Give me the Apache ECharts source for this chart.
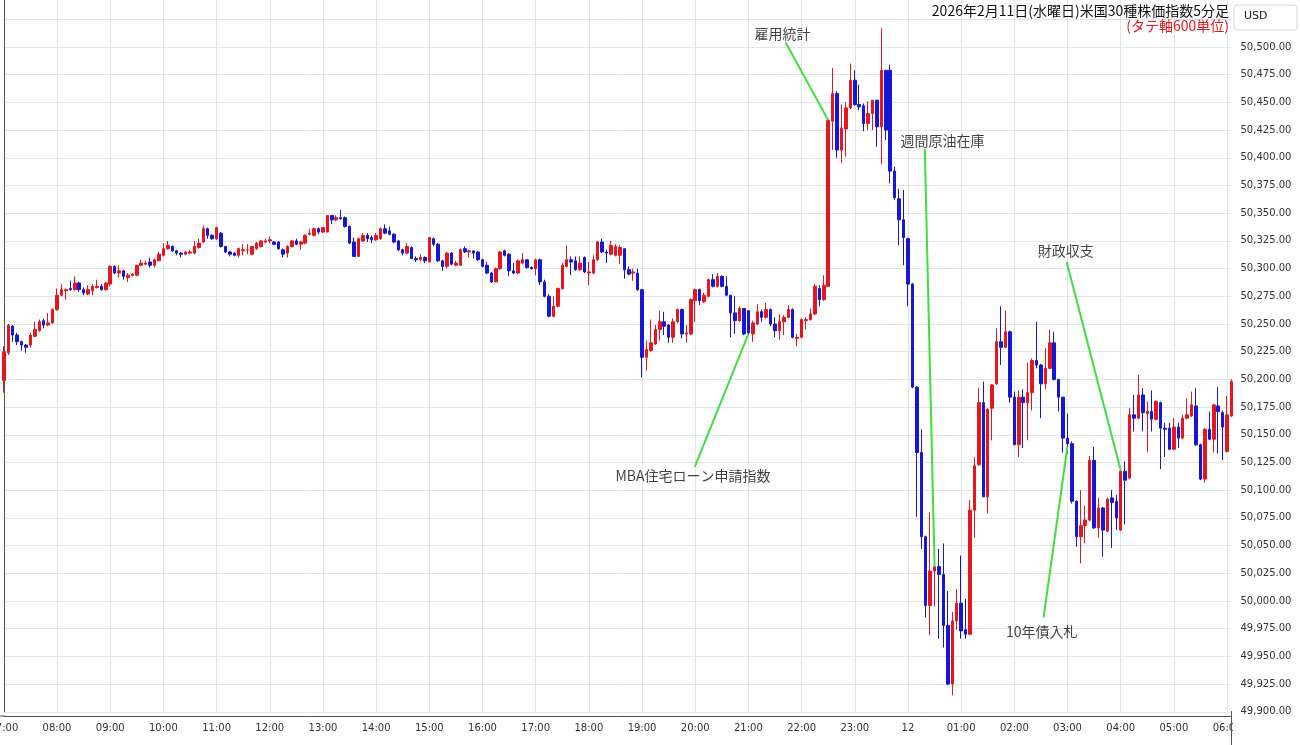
<!DOCTYPE html>
<html>
<head>
<meta charset="utf-8">
<script src="https://cdn.jsdelivr.net/npm/echarts@6/dist/echarts.min.js"></script>
<style>
  html, body { margin: 0; padding: 0; background: #fff; }
  #chart { width: 1300px; height: 745px; }
</style>
</head>
<body>
<div id="chart"></div>
<script>
// 5分足 07:00 〜 翌06:05
const barCount = 278
const times = []
for (let k = 0; k < barCount; k++) {
  const m = 7 * 60 + k * 5
  const hh = String(Math.floor(m / 60) % 24).padStart(2, '0')
  const mm = String(m % 60).padStart(2, '0')
  times.push(hh + ':' + mm)
}

const opens = [
  50199, 50224, 50248, 50240, 50234, 50231, 50231, 50239, 50244, 50253, 50249, 50251,
  50263, 50276, 50280, 50282, 50281, 50287, 50281, 50277, 50280, 50283, 50284, 50281,
  50286, 50302, 50296, 50298, 50292, 50294, 50294, 50303, 50304, 50306, 50303, 50307,
  50312, 50318, 50320, 50316, 50314, 50313, 50314, 50314, 50319, 50324, 50336, 50330,
  50327, 50332, 50320, 50315, 50314, 50312, 50316, 50317, 50313, 50318, 50320, 50324,
  50325, 50324, 50324, 50317, 50314, 50320, 50325, 50322, 50323, 50331, 50330, 50336,
  50333, 50333, 50348, 50344, 50346, 50346, 50338, 50324, 50311, 50325, 50330, 50328,
  50326, 50327, 50336, 50334, 50331, 50325, 50317, 50314, 50319, 50309, 50308, 50310,
  50306, 50327, 50322, 50307, 50302, 50314, 50303, 50303, 50318, 50315, 50316, 50315,
  50308, 50303, 50296, 50288, 50300, 50316, 50313, 50298, 50296, 50305, 50308, 50301,
  50300, 50308, 50288, 50275, 50257, 50266, 50282, 50302, 50308, 50307, 50299, 50310,
  50296, 50296, 50308, 50324, 50315, 50313, 50312, 50312, 50318, 50299, 50296, 50296,
  50281, 50220, 50226, 50232, 50245, 50252, 50249, 50238, 50252, 50263, 50241, 50241,
  50271, 50281, 50270, 50275, 50290, 50284, 50293, 50284, 50276, 50260, 50253, 50264,
  50262, 50241, 50250, 50261, 50256, 50263, 50250, 50244, 50252, 50256, 50263, 50237,
  50238, 50253, 50254, 50259, 50282, 50272, 50284, 50433, 50458, 50407, 50426, 50445,
  50470, 50448, 50447, 50431, 50440, 50452, 50428, 50479, 50479, 50388, 50363, 50344,
  50327, 50286, 50193, 50134, 50058, 49996, 50027, 50031, 50024, 49978, 49925, 49982,
  49998, 49974, 49970, 50082, 50123, 50179, 50094, 50174, 50196, 50234, 50229, 50243,
  50184, 50141, 50184, 50179, 50188, 50217, 50213, 50196, 50210, 50233, 50200, 50184,
  50147, 50142, 50090, 50058, 50068, 50073, 50127, 50066, 50084, 50063, 50093, 50090,
  50064, 50117, 50111, 50168, 50165, 50186, 50169, 50171, 50164, 50179, 50156, 50156,
  50137, 50157, 50147, 50165, 50167, 50176, 50141, 50110, 50155, 50146, 50176, 50170,
  50135, 50167,
]
const closes = [
  50225, 50249, 50240, 50234, 50231, 50229, 50240, 50245, 50252, 50249, 50251, 50263,
  50276, 50281, 50281, 50281, 50287, 50281, 50278, 50281, 50284, 50284, 50281, 50287,
  50302, 50296, 50298, 50293, 50294, 50295, 50303, 50305, 50305, 50303, 50308, 50313,
  50318, 50321, 50316, 50314, 50313, 50315, 50315, 50320, 50323, 50336, 50330, 50327,
  50337, 50320, 50315, 50313, 50312, 50318, 50317, 50317, 50320, 50323, 50325, 50325,
  50326, 50322, 50318, 50313, 50320, 50325, 50322, 50324, 50330, 50332, 50336, 50333,
  50337, 50348, 50344, 50346, 50345, 50338, 50323, 50311, 50327, 50330, 50327, 50326,
  50330, 50336, 50332, 50331, 50324, 50317, 50314, 50320, 50309, 50308, 50310, 50307,
  50328, 50322, 50307, 50302, 50314, 50304, 50305, 50317, 50315, 50316, 50314, 50308,
  50302, 50296, 50288, 50300, 50315, 50312, 50298, 50296, 50307, 50308, 50301, 50300,
  50308, 50288, 50275, 50257, 50266, 50282, 50303, 50308, 50306, 50299, 50305, 50297,
  50297, 50308, 50324, 50315, 50314, 50321, 50320, 50319, 50299, 50295, 50297, 50281,
  50220, 50227, 50233, 50245, 50252, 50248, 50238, 50252, 50263, 50241, 50242, 50272,
  50281, 50271, 50276, 50290, 50284, 50293, 50284, 50276, 50260, 50253, 50264, 50241,
  50242, 50251, 50261, 50256, 50263, 50250, 50244, 50252, 50256, 50263, 50238, 50238,
  50254, 50254, 50259, 50284, 50272, 50285, 50434, 50458, 50407, 50427, 50445, 50470,
  50448, 50446, 50431, 50440, 50452, 50428, 50479, 50425, 50388, 50364, 50344, 50328,
  50286, 50193, 50134, 50058, 49996, 50027, 50031, 50024, 49978, 49925, 49982, 49998,
  49973, 49970, 50082, 50122, 50179, 50094, 50173, 50195, 50234, 50229, 50243, 50184,
  50141, 50184, 50179, 50188, 50217, 50213, 50196, 50210, 50233, 50200, 50184, 50147,
  50142, 50090, 50058, 50068, 50073, 50127, 50066, 50084, 50064, 50092, 50089, 50075,
  50117, 50109, 50168, 50165, 50186, 50170, 50171, 50164, 50180, 50156, 50155, 50137,
  50157, 50147, 50165, 50168, 50177, 50141, 50110, 50155, 50146, 50177, 50171, 50157,
  50168, 50198,
]
const lows = [
  50188, 50222, 50234, 50231, 50226, 50224, 50229, 50238, 50243, 50246, 50248, 50250,
  50262, 50275, 50272, 50280, 50280, 50279, 50276, 50276, 50276, 50282, 50280, 50280,
  50284, 50295, 50292, 50290, 50288, 50293, 50293, 50302, 50303, 50301, 50301, 50307,
  50311, 50317, 50315, 50312, 50310, 50312, 50313, 50313, 50318, 50323, 50327, 50326,
  50326, 50319, 50314, 50311, 50311, 50310, 50312, 50313, 50312, 50317, 50319, 50323,
  50323, 50321, 50317, 50310, 50310, 50319, 50321, 50317, 50322, 50330, 50329, 50331,
  50332, 50333, 50340, 50343, 50344, 50337, 50322, 50311, 50311, 50324, 50324, 50323,
  50325, 50326, 50331, 50330, 50323, 50316, 50312, 50313, 50309, 50306, 50307, 50305,
  50306, 50320, 50306, 50298, 50300, 50303, 50302, 50303, 50314, 50310, 50309, 50307,
  50301, 50295, 50287, 50288, 50299, 50311, 50293, 50295, 50295, 50304, 50300, 50299,
  50294, 50285, 50274, 50256, 50256, 50265, 50281, 50301, 50294, 50298, 50298, 50296,
  50285, 50295, 50307, 50314, 50305, 50312, 50311, 50304, 50291, 50294, 50289, 50280,
  50202, 50208, 50225, 50231, 50235, 50240, 50233, 50233, 50251, 50237, 50233, 50240,
  50252, 50267, 50269, 50274, 50283, 50283, 50283, 50275, 50238, 50241, 50252, 50240,
  50241, 50234, 50249, 50252, 50255, 50248, 50238, 50236, 50240, 50255, 50237, 50230,
  50237, 50245, 50253, 50258, 50266, 50271, 50284, 50407, 50400, 50395, 50401, 50444,
  50447, 50443, 50424, 50425, 50425, 50410, 50394, 50416, 50377, 50362, 50321, 50303,
  50266, 50192, 50076, 50047, 49985, 49969, 49995, 49966, 49958, 49924, 49915, 49974,
  49966, 49966, 49969, 50057, 50122, 50094, 50079, 50145, 50195, 50213, 50228, 50179,
  50141, 50130, 50138, 50145, 50172, 50210, 50165, 50191, 50209, 50199, 50171, 50134,
  50133, 50088, 50049, 50034, 50052, 50072, 50065, 50057, 50040, 50062, 50048, 50064,
  50063, 50069, 50110, 50153, 50164, 50153, 50134, 50153, 50163, 50119, 50130, 50136,
  50136, 50138, 50146, 50164, 50166, 50140, 50109, 50107, 50145, 50134, 50133, 50127,
  50134, 50166,
]
const highs = [
  50230, 50250, 50249, 50242, 50235, 50232, 50242, 50252, 50254, 50255, 50260, 50264,
  50282, 50286, 50282, 50289, 50293, 50288, 50283, 50285, 50286, 50290, 50286, 50288,
  50303, 50303, 50303, 50299, 50296, 50296, 50303, 50308, 50307, 50310, 50309, 50315,
  50323, 50325, 50321, 50317, 50315, 50316, 50317, 50325, 50327, 50339, 50337, 50331,
  50338, 50333, 50320, 50316, 50315, 50319, 50322, 50322, 50320, 50324, 50326, 50327,
  50329, 50325, 50325, 50318, 50321, 50326, 50327, 50325, 50331, 50336, 50337, 50337,
  50337, 50348, 50348, 50348, 50353, 50347, 50339, 50328, 50328, 50332, 50332, 50330,
  50332, 50337, 50340, 50338, 50332, 50326, 50318, 50323, 50320, 50311, 50313, 50311,
  50328, 50328, 50323, 50308, 50315, 50315, 50307, 50318, 50320, 50317, 50316, 50316,
  50309, 50306, 50297, 50301, 50316, 50317, 50314, 50305, 50308, 50314, 50308, 50302,
  50309, 50309, 50290, 50277, 50275, 50283, 50305, 50321, 50311, 50311, 50311, 50311,
  50306, 50312, 50325, 50327, 50317, 50325, 50322, 50321, 50318, 50302, 50300, 50300,
  50281, 50235, 50254, 50249, 50262, 50261, 50250, 50255, 50264, 50264, 50249, 50273,
  50282, 50282, 50278, 50291, 50295, 50296, 50294, 50293, 50276, 50275, 50266, 50264,
  50262, 50253, 50268, 50263, 50269, 50264, 50256, 50259, 50258, 50267, 50264, 50241,
  50255, 50256, 50264, 50286, 50285, 50294, 50434, 50481, 50460, 50448, 50450, 50485,
  50479, 50466, 50449, 50451, 50452, 50452, 50517, 50479, 50484, 50392, 50372, 50371,
  50328, 50287, 50194, 50155, 50059, 50080, 50044, 50047, 50052, 50009, 49990, 50011,
  50041, 50002, 50091, 50130, 50192, 50198, 50174, 50196, 50246, 50266, 50262, 50244,
  50189, 50190, 50191, 50215, 50219, 50252, 50214, 50228, 50245, 50243, 50200, 50184,
  50169, 50144, 50091, 50100, 50086, 50131, 50139, 50093, 50085, 50093, 50100, 50096,
  50118, 50126, 50174, 50186, 50204, 50192, 50180, 50190, 50181, 50180, 50161, 50161,
  50165, 50161, 50168, 50183, 50189, 50192, 50142, 50156, 50171, 50178, 50193, 50172,
  50185, 50200,
]

// 指標発表の注記 (x はバー番号, y は価格)
const noteNames = ['雇用統計', '週間原油在庫', '財政収支', 'MBA住宅ローン申請指数', '10年債入札']
const noteLabelAt = [[175.7, 50512], [211.8, 50415], [239.6, 50316], [155.5, 50113], [234.2, 49972]]
const noteLineFrom = [[176.4, 50504], [207.8, 50408], [239.8, 50306], [155.9, 50121], [234.6, 49985]]
const noteLineTo = [[186, 50434], [210, 50031], [252, 50118], [168, 50241], [240, 50140]]

const upColor = '#e5161d'
const downColor = '#1616d6'
const jpFont = '"Noto Sans CJK JP", "Noto Sans", sans-serif'
const numFont = '"DejaVu Sans", sans-serif'

const candles = opens.map((o, k) => [o, closes[k], lows[k], highs[k]])
const isHour = (idx, val) => val.endsWith(':00')

const chart = echarts.init(document.getElementById('chart'))
chart.setOption({
  animation: false,
  backgroundColor: '#fff',
  grid: { left: 3.85, right: 68.5, top: -8.4, bottom: 33.2, outerBoundsMode: 'none', containLabel: false },
  xAxis: [
    {
      type: 'category',
      data: times,
      boundaryGap: false,
      offset: 4,
      axisLine: { lineStyle: { color: '#555', width: 1 } },
      axisTick: { show: false },
      axisLabel: {
        interval: isHour,
        margin: 8,
        color: '#333',
        fontSize: 10,
        fontFamily: numFont,
        formatter: v => (v === '00:00' ? '12' : v),
      },
      splitLine: { show: true, interval: isHour, lineStyle: { color: '#dfe6ed', width: 1 } },
    },
    { type: 'value', min: 0, max: barCount - 1, show: false },
  ],
  yAxis: {
    type: 'value',
    position: 'right',
    min: 49900,
    max: 50550,
    interval: 25,
    axisLine: { show: true, lineStyle: { color: '#555', width: 1 } },
    axisTick: { show: false },
    axisLabel: {
      margin: 9,
      color: '#333',
      fontSize: 10,
      fontFamily: numFont,
      formatter: v => v.toLocaleString('en-US', { minimumFractionDigits: 2, maximumFractionDigits: 2 }),
    },
    splitLine: { lineStyle: { color: '#dfe6ed', width: 1 } },
  },
  series: [
    {
      type: 'candlestick',
      data: candles,
      barWidth: 3,
      itemStyle: {
        color: upColor,
        color0: downColor,
        borderColor: upColor,
        borderColor0: downColor,
        borderWidth: 1,
      },
    },
    ...noteLineFrom.map((p, k) => ({
      type: 'line',
      xAxisIndex: 1,
      data: [p, noteLineTo[k]],
      symbol: 'none',
      silent: true,
      lineStyle: { color: '#3de03d', width: 2 },
      z: 5,
    })),
    {
      type: 'scatter',
      xAxisIndex: 1,
      symbolSize: 1,
      itemStyle: { color: 'rgba(0,0,0,0)' },
      silent: true,
      z: 6,
      data: noteLabelAt.map((p, k) => ({ value: p, name: noteNames[k] })),
      label: {
        show: true,
        position: 'inside',
        formatter: '{b}',
        color: '#111',
        fontSize: 14,
        fontFamily: jpFont,
      },
    },
  ],
  graphic: [
    {
      type: 'rect',
      z: 100,
      shape: { x: 1233, y: 717, width: 67, height: 28 },
      style: { fill: '#fff' },
    },
    {
      type: 'line',
      z: 100,
      shape: { x1: 1231.5, y1: 711, x2: 1231.5, y2: 745 },
      style: { stroke: '#555', lineWidth: 1 },
    },
    {
      type: 'line',
      z: 100,
      shape: { x1: 0, y1: 716, x2: 5, y2: 716 },
      style: { stroke: '#555', lineWidth: 1 },
    },
    {
      type: 'rect',
      z: 100,
      shape: { x: 1234, y: 5, width: 63, height: 25, r: 3 },
      style: { fill: '#fff', stroke: '#d6d6d6', lineWidth: 1 },
    },
    {
      type: 'text',
      z: 101,
      x: 1244,
      y: 11,
      style: { text: 'USD', fill: '#222', font: '11px ' + numFont },
    },
    {
      type: 'text',
      z: 101,
      right: 71,
      top: 4,
      style: { text: '2026年2月11日(水曜日)米国30種株価指数5分足', fill: '#111', font: '14px ' + jpFont },
    },
    {
      type: 'text',
      z: 101,
      right: 71,
      top: 19,
      style: { text: '(タテ軸600単位)', fill: '#e8141c', font: '14px ' + jpFont },
    },
  ],
})
</script>
</body>
</html>
